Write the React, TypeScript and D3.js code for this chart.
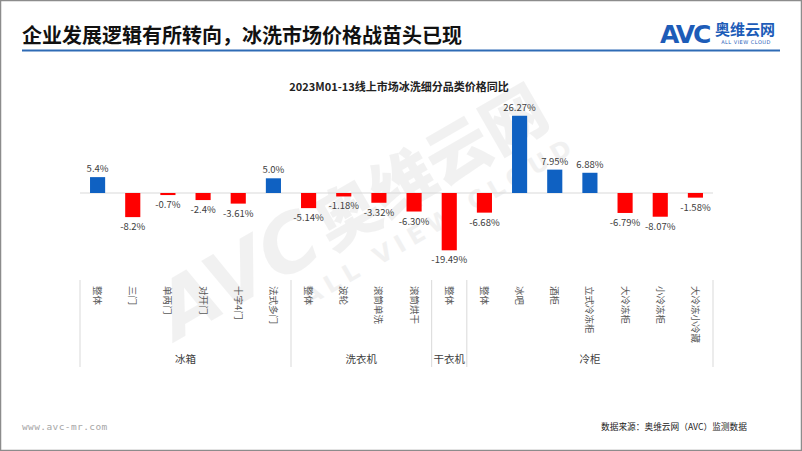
import React from "react";
import * as d3 from "d3";

const groups = ["冰箱", "洗衣机", "干衣机", "冷柜"];
const categories = [
  "整体", "三门", "单两门", "对开门", "十字4门", "法式多门",
  "整体", "波轮", "滚筒单洗", "滚筒烘干",
  "整体",
  "整体", "冰吧", "酒柜", "立式冷冻柜", "大冷冻柜", "小冷冻柜", "大冷冻小冷藏",
];
const categoryGroup = [0, 0, 0, 0, 0, 0, 1, 1, 1, 1, 2, 3, 3, 3, 3, 3, 3, 3];
const values = [5.4, -8.2, -0.7, -2.4, -3.61, 5.0, -5.14, -1.18, -3.32, -6.3, -19.49, -6.68, 26.27, 7.95, 6.88, -6.79, -8.07, -1.58];
const valueLabels = ["5.4%", "-8.2%", "-0.7%", "-2.4%", "-3.61%", "5.0%", "-5.14%", "-1.18%", "-3.32%", "-6.30%", "-19.49%", "-6.68%", "26.27%", "7.95%", "6.88%", "-6.79%", "-8.07%", "-1.58%"];

const W = 802;
const H = 451;
const FONT = "'Noto Sans CJK SC', 'Noto Sans', sans-serif";

export default function App() {
  const x = d3
    .scaleBand<number>()
    .domain(d3.range(categories.length))
    .range([80, 713])
    .padding(0);
  const y = d3.scaleLinear().domain([-20, 30]).range([251.8, 104.8]);
  const bw = x.bandwidth() * 0.43;
  const y0 = y(0);

  const bounds: number[] = [x(0)!];
  groups.forEach((_, gi) => {
    const idx = categoryGroup.lastIndexOf(gi);
    bounds.push(x(idx)! + x.bandwidth());
  });

  return (
    <svg
      width={W}
      height={H}
      style={{ position: "absolute", left: 0, top: 0, display: "block" }}
      fontFamily={FONT}
    >
      <rect x={0.5} y={0.5} width={W - 1} height={H - 1} fill="#fff" stroke="#8c8c8c" strokeWidth={1.5} />

      {/* watermark */}
      <g transform="translate(365,232) rotate(-30)" opacity={0.45}>
        <text x={0} y={0} textAnchor="middle" fontSize={78} fontWeight={900} fontStyle="italic" fill="#e2e2e2" fontFamily="'DejaVu Sans', sans-serif">
          AVC
          <tspan fontFamily={FONT} fontStyle="normal" fontSize={64} dx={6}>奥维云网</tspan>
        </text>
        <text x={70} y={36} textAnchor="middle" fontSize={24} fontWeight={700} fill="#e2e2e2" letterSpacing={6} fontFamily="'DejaVu Sans', sans-serif">
          ALL VIEW CLOUD
        </text>
      </g>

      {/* header */}
      <text x={22} y={43} fontSize={20} fontWeight={700} fill="#111">
        企业发展逻辑有所转向，冰洗市场价格战苗头已现
      </text>
      <line x1={22} x2={780} y1={50.5} y2={50.5} stroke="#2e6bb5" strokeWidth={2} />
      <text x={660} y={43} fontSize={25} fontWeight={900} fill="#1d5cb8" fontFamily="'DejaVu Sans', sans-serif" letterSpacing={-2}>
        AVC
      </text>
      <text x={715} y={35} fontSize={15} fontWeight={700} fill="#1d5cb8">奥维云网</text>
      <text x={746} y={44} fontSize={5} fill="#1d5cb8" textAnchor="middle" fontFamily="'DejaVu Sans', sans-serif" letterSpacing={0.5}>
        ALL VIEW CLOUD
      </text>

      {/* chart title */}
      <text x={399} y={91} textAnchor="middle" fontSize={11} fontWeight={700} fill="#222">
        2023M01-13线上市场冰洗细分品类价格同比
      </text>

      {/* zero axis */}
      <line x1={80} x2={713} y1={y0} y2={y0} stroke="#d9d9d9" strokeWidth={1} />

      {/* bars */}
      {values.map((v, i) => {
        const cx = x(i)! + x.bandwidth() / 2;
        const top = Math.min(y(v), y0);
        const h = Math.abs(y(v) - y0);
        return (
          <g key={i}>
            <rect x={cx - bw / 2} y={top} width={bw} height={h} fill={v >= 0 ? "#0f61c2" : "#ff0000"} />
            <text
              x={cx}
              y={v >= 0 ? y(v) - 5 : y(v) + 13}
              textAnchor="middle"
              fontSize={9.5}
              fill="#404040"
            >
              {valueLabels[i]}
            </text>
          </g>
        );
      })}

      {/* category labels (rotated) */}
      {categories.map((c, i) => {
        const cx = x(i)! + x.bandwidth() / 2;
        return (
          <text
            key={i}
            transform={`translate(${cx - 3.5},286) rotate(90)`}
            fontSize={9.5}
            fill="#595959"
          >
            {c}
          </text>
        );
      })}

      {/* group separators */}
      {bounds.map((b, i) => (
        <line key={i} x1={b} x2={b} y1={280} y2={367} stroke="#d9d9d9" strokeWidth={1} />
      ))}

      {/* group labels */}
      {groups.map((g, gi) => (
        <text
          key={g}
          x={(bounds[gi] + bounds[gi + 1]) / 2}
          y={363}
          textAnchor="middle"
          fontSize={10.5}
          fill="#404040"
        >
          {g}
        </text>
      ))}

      {/* footer */}
      <text x={22} y={430} fontSize={9.5} fill="#a6a6a6" fontFamily="'DejaVu Sans Mono', monospace" letterSpacing={0.4}>
        www.avc-mr.com
      </text>
      <text x={601} y={430} fontSize={8.7} fill="#222">
        数据来源：奥维云网（AVC）监测数据
      </text>
    </svg>
  );
}
